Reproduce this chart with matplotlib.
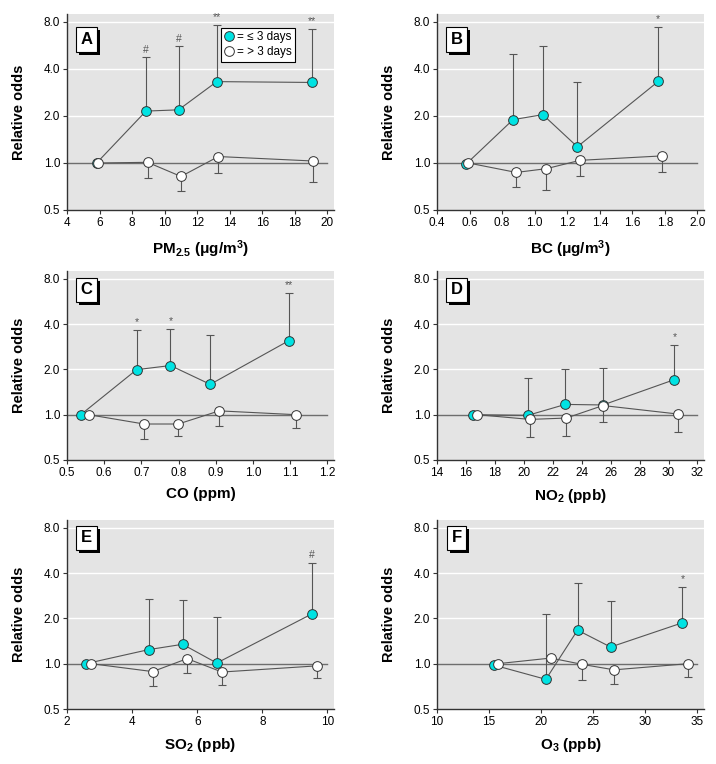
import numpy as np
import matplotlib
matplotlib.use('Agg')
import matplotlib.pyplot as plt
from matplotlib.lines import Line2D
from matplotlib.ticker import FixedLocator, FormatStrFormatter
import matplotlib.patheffects as pe

plt.rcParams['font.family'] = ['Liberation Sans Narrow', 'Liberation Sans', 'DejaVu Sans']
plt.rcParams['mathtext.default'] = 'regular'

# colours
cyan = '#00e3e3'
bg = '#e4e4e4'
dark = '#333333'
line_c = '#555555'

# ---- data ----
# A: PM2.5
pm_x_s = [5.82, 8.85, 10.85, 13.2, 19.05]
pm_or_s = [1.0, 2.15, 2.19, 3.32, 3.28]
pm_hi_s = [1.0, 4.75, 5.59, 7.62, 7.25]
pm_x_l = [5.9, 8.95, 11.0, 13.3, 19.1]
pm_or_l = [1.0, 1.01, 0.82, 1.10, 1.03]
pm_lo_l = [1.0, 0.805, 0.664, 0.867, 0.756]
pm_sig = ['', '#', '#', '**', '**']

# B: BC
bc_x_s = [0.577, 0.867, 1.05, 1.262, 1.759]
bc_or_s = [0.98, 1.895, 2.04, 1.27, 3.33]
bc_hi_s = [0.98, 5.0, 5.6, 3.31, 7.43]
bc_x_l = [0.593, 0.887, 1.072, 1.278, 1.78]
bc_or_l = [1.0, 0.87, 0.92, 1.04, 1.11]
bc_lo_l = [1.0, 0.70, 0.667, 0.82, 0.87]
bc_sig = ['', '', '', '', '*']

# C: CO
co_x_s = [0.537, 0.687, 0.778, 0.885, 1.096]
co_or_s = [1.0, 1.99, 2.12, 1.59, 3.10]
co_hi_s = [1.0, 3.66, 3.72, 3.40, 6.41]
co_x_l = [0.558, 0.707, 0.799, 0.909, 1.115]
co_or_l = [1.0, 0.867, 0.867, 1.06, 1.0]
co_lo_l = [1.0, 0.694, 0.726, 0.836, 0.82]
co_sig = ['', '*', '*', '', '**']

# D: NO2
no_x_s = [16.48, 20.28, 22.87, 25.47, 30.41]
no_or_s = [1.0, 0.99, 1.17, 1.16, 1.71]
no_hi_s = [1.0, 1.75, 2.0, 2.03, 2.90]
no_x_l = [16.76, 20.44, 22.94, 25.47, 30.64]
no_or_l = [1.0, 0.93, 0.95, 1.15, 1.01]
no_lo_l = [1.0, 0.715, 0.726, 0.897, 0.771]
no_sig = ['', '', '', '', '*']

# E: SO2
so_x_s = [2.58, 4.51, 5.55, 6.60, 9.52]
so_or_s = [1.0, 1.24, 1.345, 1.01, 2.14]
so_hi_s = [1.0, 2.68, 2.63, 2.05, 4.68]
so_x_l = [2.74, 4.63, 5.69, 6.76, 9.67]
so_or_l = [1.0, 0.886, 1.08, 0.88, 0.967]
so_lo_l = [1.0, 0.706, 0.868, 0.721, 0.803]
so_sig = ['', '', '', '', '#']

# F: O3
o3_x_s = [15.43, 20.45, 23.49, 26.66, 33.56]
o3_or_s = [0.98, 0.787, 1.67, 1.29, 1.87]
o3_hi_s = [0.98, 2.14, 3.43, 2.60, 3.23]
o3_x_l = [15.85, 20.93, 23.91, 27.0, 34.1]
o3_or_l = [1.0, 1.09, 0.99, 0.91, 1.0]
o3_lo_l = [1.0, 1.09, 0.783, 0.732, 0.816]
o3_sig = ['', '', '', '', '*']

yticks = [0.5, 1.0, 2.0, 4.0, 8.0]

panels = [
    ('A', r'PM$_{2.5}$ (μg/m$^3$)', np.arange(4, 21, 2), '%d',
     pm_x_s, pm_or_s, pm_hi_s, pm_x_l, pm_or_l, pm_lo_l, pm_sig),
    ('B', r'BC (μg/m$^3$)', np.arange(0.4, 2.01, 0.2), '%.1f',
     bc_x_s, bc_or_s, bc_hi_s, bc_x_l, bc_or_l, bc_lo_l, bc_sig),
    ('C', 'CO (ppm)', np.arange(0.5, 1.21, 0.1), '%.1f',
     co_x_s, co_or_s, co_hi_s, co_x_l, co_or_l, co_lo_l, co_sig),
    ('D', r'NO$_2$ (ppb)', np.arange(14, 33, 2), '%d',
     no_x_s, no_or_s, no_hi_s, no_x_l, no_or_l, no_lo_l, no_sig),
    ('E', r'SO$_2$ (ppb)', np.arange(2, 11, 2), '%d',
     so_x_s, so_or_s, so_hi_s, so_x_l, so_or_l, so_lo_l, so_sig),
    ('F', r'O$_3$ (ppb)', np.arange(10, 36, 5), '%d',
     o3_x_s, o3_or_s, o3_hi_s, o3_x_l, o3_or_l, o3_lo_l, o3_sig),
]

W, H = 716, 764
fig = plt.figure(figsize=(W / 100, H / 100), dpi=100)

# axes boxes in pixels
lefts = [67, 437]
rows = [(14, 210), (271, 460), (520, 709)]
label_y = [0.87, 0.90, 0.905]

for i, p in enumerate(panels):
    name, xlabel, xt, fmt, xs, ors, his, xl, orl, lol, sig = p
    r, c = divmod(i, 2)
    top, bot = rows[r]
    l = lefts[c]
    ax = fig.add_axes([l / W, (H - bot) / H, 267 / W, (bot - top) / H])
    ax.set_facecolor(bg)
    ax.set_yscale('log', base=2)
    ax.set_ylim(0.5, 9.0)
    span = xt[-1] - xt[0]
    ax.set_xlim(xt[0], xt[-1] + 0.025 * span)
    ax.yaxis.set_major_locator(FixedLocator(yticks))
    ax.yaxis.set_minor_locator(FixedLocator([]))
    ax.set_yticklabels(['%.1f' % v for v in yticks])
    ax.xaxis.set_major_locator(FixedLocator(xt))
    ax.xaxis.set_major_formatter(FormatStrFormatter(fmt))
    ax.tick_params(labelsize=8.5, length=3, width=0.8, color=dark, pad=2)
    for s in ['top', 'right']:
        ax.spines[s].set_visible(False)
    for s in ['left', 'bottom']:
        ax.spines[s].set_color(dark)
        ax.spines[s].set_linewidth(1.0)
    for g in [2.0, 4.0, 8.0]:
        ax.axhline(g, color='white', lw=1.0, zorder=0.5)
    ax.plot([xt[0], xt[-1]], [1.0, 1.0], color='#6e6e6e', lw=1.0, zorder=1)

    xs = np.array(xs); ors = np.array(ors); his = np.array(his)
    xl = np.array(xl); orl = np.array(orl); lol = np.array(lol)

    # upper bars for <= 3 days, lower bars for > 3 days
    ax.errorbar(xs, ors, yerr=[np.zeros_like(ors), his - ors], fmt='none',
                ecolor=line_c, elinewidth=0.8, capsize=3, capthick=0.8, zorder=2)
    ax.errorbar(xl, orl, yerr=[orl - lol, np.zeros_like(orl)], fmt='none',
                ecolor=line_c, elinewidth=0.8, capsize=3, capthick=0.8, zorder=2)
    ax.plot(xs, ors, '-o', color=line_c, lw=0.8, ms=7, mfc=cyan, mec=dark,
            mew=0.7, zorder=3)
    ax.plot(xl, orl, '-o', color=line_c, lw=0.8, ms=7, mfc='white', mec=dark,
            mew=0.7, zorder=4)
    for xx, hh, ss in zip(xs, his, sig):
        if ss:
            ax.annotate(ss, (xx, hh), xytext=(0, 2), textcoords='offset points',
                        ha='center', va='bottom', fontsize=7.5, color='#555555')

    # panel letter in a box with a black drop shadow
    t = ax.text(0.073, label_y[r], name, transform=ax.transAxes, ha='center',
                va='center', fontsize=12, fontweight='bold', color='black',
                bbox=dict(boxstyle='square,pad=0.28', fc='white', ec='black', lw=0.8),
                zorder=7)
    t.get_bbox_patch().set_path_effects([
        pe.SimplePatchShadow(offset=(2.2, -2.2), shadow_rgbFace='black', alpha=1),
        pe.Normal()])

    ax.set_xlabel(xlabel, fontsize=11, fontweight='bold')
    ax.xaxis.set_label_coords(0.5, -0.145)
    ax.set_ylabel('Relative odds', fontsize=10.5, fontweight='bold')
    ax.yaxis.set_label_coords(-0.155, 0.5)

    if i == 0:
        h = [Line2D([], [], ls='none', marker='o', ms=7, mfc=cyan, mec=dark, mew=0.7),
             Line2D([], [], ls='none', marker='o', ms=7, mfc='white', mec=dark, mew=0.7)]
        leg = ax.legend(h, ['= ≤ 3 days', '= > 3 days'], loc='upper right',
                        bbox_to_anchor=(0.854, 0.93), fontsize=8.5, frameon=True,
                        fancybox=False, edgecolor='black', framealpha=1,
                        handlelength=0.7, handletextpad=0.3, borderpad=0.3,
                        labelspacing=0.25, borderaxespad=0)
        leg.get_frame().set_linewidth(0.8)
        leg.get_frame().set_path_effects([
            pe.SimplePatchShadow(offset=(1, -1), shadow_rgbFace='black', alpha=1),
            pe.Normal()])
        leg.set_zorder(8)

fig.savefig('out.png', dpi=100)
